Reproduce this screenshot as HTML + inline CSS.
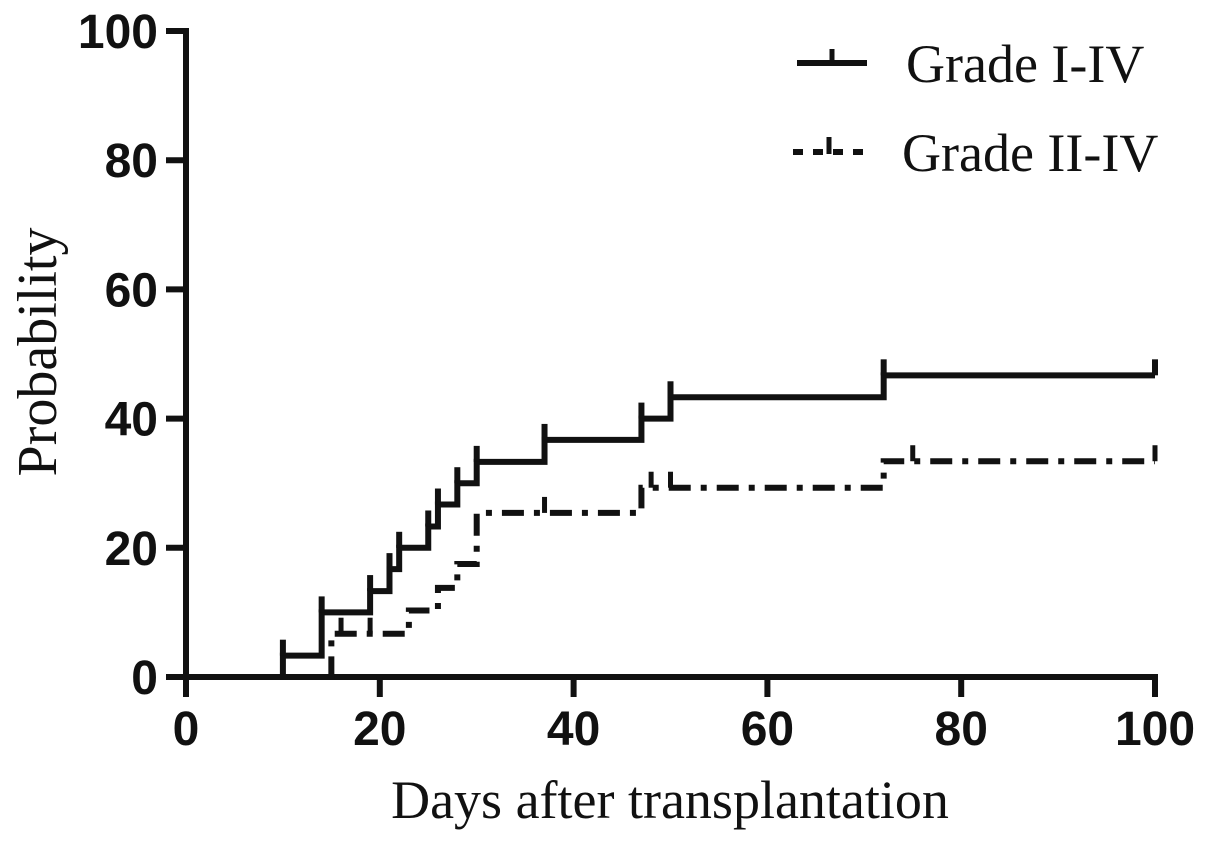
<!DOCTYPE html>
<html><head><meta charset="utf-8"><style>
body{margin:0;background:#fff}
svg{display:block}
.tk{font-family:"Liberation Sans",Arial,sans-serif;font-weight:bold;font-size:48px;fill:#111}
.ser{font-family:"Liberation Serif","Times New Roman",serif;fill:#111}
</style></head><body>
<svg id="chart" width="1205" height="841" viewBox="0 0 1205 841">
<g id="axes"></g>
<g id="plot"></g>
<text class="ser" x="670" y="818" font-size="54" text-anchor="middle">Days after transplantation</text>
<text class="ser" transform="translate(56,352) rotate(-90)" font-size="56" text-anchor="middle">Probability</text>
<g>
<g>
<line x1="797" y1="63" x2="867" y2="63" stroke="#111" stroke-width="6"/>
<line x1="832" y1="49" x2="832" y2="66" stroke="#111" stroke-width="5"/>
<text class="ser" x="906" y="82" font-size="54">Grade I-IV</text>
</g>
<g>
<line x1="793" y1="152" x2="865" y2="152" stroke="#111" stroke-width="6" stroke-dasharray="10,10"/>
<line x1="829" y1="137" x2="829" y2="154" stroke="#111" stroke-width="5"/>
<text class="ser" x="902" y="171" font-size="54">Grade II-IV</text>
</g>
</g>
</svg>
<script>
const xTicks=[0,20,40,60,80,100];
const yTicks=[0,20,40,60,80,100];
const solidX=[0,10,14,19,21,22,25,26,28,30,37,47,50,72,100];
const solidY=[0,3.3,10,13.3,16.7,20,23.3,26.7,30,33.3,36.7,40,43.3,46.7,46.7];
const dashX=[0,15,23,26,28,30,47,72,100];
const dashY=[0,6.7,10.3,13.8,17.5,25.4,29.3,33.4,33.4];
const dashCens=[16,19,37,48,50,75,100];
const NS="http://www.w3.org/2000/svg";
const X=v=>186+v*9.69, Y=v=>677-v*6.46;
function mk(t,a,p){const e=document.createElementNS(NS,t);for(const k in a)e.setAttribute(k,a[k]);p.appendChild(e);return e;}
const ax=document.getElementById('axes'),pl=document.getElementById('plot');
const xa=mk('line',{x1:X(0),y1:Y(0),x2:X(100)+3,y2:Y(0),stroke:'#111','stroke-width':6},ax);


const ya=mk('line',{x1:X(0),y1:Y(0)+3,x2:X(0),y2:Y(100)-3,stroke:'#111','stroke-width':6},ax);


xTicks.forEach(v=>{
 mk('line',{x1:X(v),y1:Y(0),x2:X(v),y2:Y(0)+20,stroke:'#111','stroke-width':6},ax);
 const t=mk('text',{x:X(v),y:745,'text-anchor':'middle',class:'tk'},ax);t.textContent=v;
 
 
});
yTicks.forEach(v=>{
 mk('line',{x1:X(0)-20,y1:Y(v),x2:X(0),y2:Y(v),stroke:'#111','stroke-width':6},ax);
 const t=mk('text',{x:158,y:Y(v)+17,'text-anchor':'end',class:'tk'},ax);t.textContent=v;
 
 
});
function stepPath(xs,ys){let d='M'+X(xs[0])+','+Y(ys[0]);for(let i=1;i<xs.length;i++){d+=' H'+X(xs[i])+' V'+Y(ys[i]);}return d;}
function yAt(xs,ys,x){let y=ys[0];for(let i=0;i<xs.length;i++)if(xs[i]<=x)y=ys[i];return y;}
const s=mk('path',{d:stepPath(solidX,solidY),fill:'none',stroke:'#111','stroke-width':6},pl);


const d=mk('path',{d:stepPath(dashX,dashY),fill:'none',stroke:'#111','stroke-width':6,'stroke-dasharray':'22,10,6,10'},pl);


solidX.slice(1).forEach((x,i)=>{const y=solidY[i+1];mk('line',{x1:X(x),y1:Y(y)-16,x2:X(x),y2:Y(y),stroke:'#111','stroke-width':6},pl);});
dashCens.forEach(x=>{const y=yAt(dashX,dashY,x);const c=mk('line',{x1:X(x),y1:Y(y)-16,x2:X(x),y2:Y(y),stroke:'#111','stroke-width':5},pl);
 
 });
</script>
</body></html>
